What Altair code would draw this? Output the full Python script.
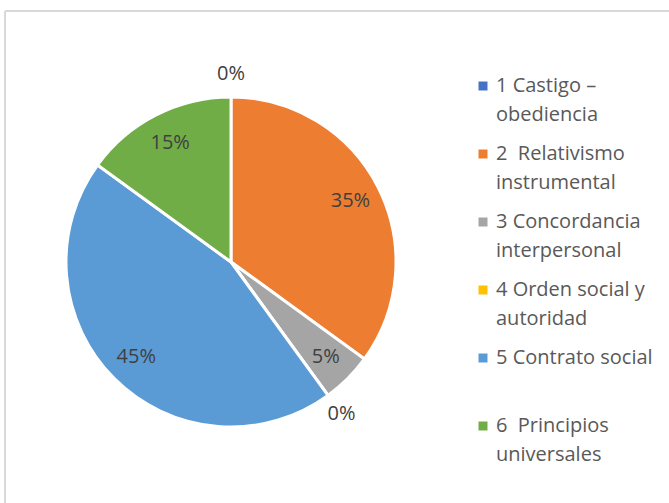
import altair as alt
import pandas as pd

# Legend labels as they are wrapped in the reference
categories = [
    "1 Castigo –\nobediencia",
    "2 \u00a0Relativismo\ninstrumental",
    "3 Concordancia\ninterpersonal",
    "4 Orden social y\nautoridad",
    "5 Contrato social\n",
    "6 \u00a0Principios\nuniversales",
]
percentages = [0, 35, 5, 0, 45, 15]
colors = ["#4472C4", "#ED7D31", "#A5A5A5", "#FFC000", "#5B9BD5", "#70AD47"]

FONT = "Open Sans"

df = pd.DataFrame({
    "idx": list(range(len(categories))),
    "cat": categories,
    "pct": percentages,
})

base = alt.Chart(df).encode(
    theta=alt.Theta("pct:Q", stack=True),
    order=alt.Order("idx:Q"),
)

arcs = base.mark_arc(outerRadius=165, stroke="white", strokeWidth=3).encode(
    color=alt.Color(
        "cat:N",
        sort=categories,
        scale=alt.Scale(domain=categories, range=colors),
        legend=alt.Legend(
            title=None,
            orient="none",
            legendX=462,
            legendY=34,
            symbolType="square",
            symbolSize=81,
            symbolStrokeWidth=0,
            labelFont=FONT,
            labelFontSize=20,
            labelColor="#595959",
            labelExpr="split(datum.label, '\\n')",
            labelLimit=300,
            labelOffset=3,
            rowPadding=19,
        ),
    )
)

inner = base.transform_calculate(
    lab="datum.pct > 0 ? datum.pct + '%' : ''"
).mark_text(radius=134, font=FONT, fontSize=20, color="#404040").encode(
    text="lab:N"
)

outer = base.transform_calculate(
    lab="datum.pct > 0 ? '' : datum.pct + '%'"
).mark_text(radius=188, font=FONT, fontSize=20, color="#404040").encode(
    text="lab:N"
)

frame_df = pd.DataFrame({"k": [0]})
top_line = alt.Chart(frame_df).mark_rule(color="#D9D9D9", strokeWidth=2).encode(
    x=alt.value(-6), x2=alt.value(700), y=alt.value(-31)
)
left_line = alt.Chart(frame_df).mark_rule(color="#D9D9D9", strokeWidth=2).encode(
    x=alt.value(-6), y=alt.value(-31), y2=alt.value(480)
)

chart = alt.layer(top_line, left_line, arcs, inner, outer).properties(
    width=440,
    height=440,
    padding={"left": 11, "top": 42, "right": 218, "bottom": 21},
    autosize="none",
    background="white",
).configure(
    view={"strokeWidth": 0},
    style={"guide-label": {"lineHeight": 29}},
)

chart.save("out.html", embed_options={"renderer": "svg", "actions": False})
